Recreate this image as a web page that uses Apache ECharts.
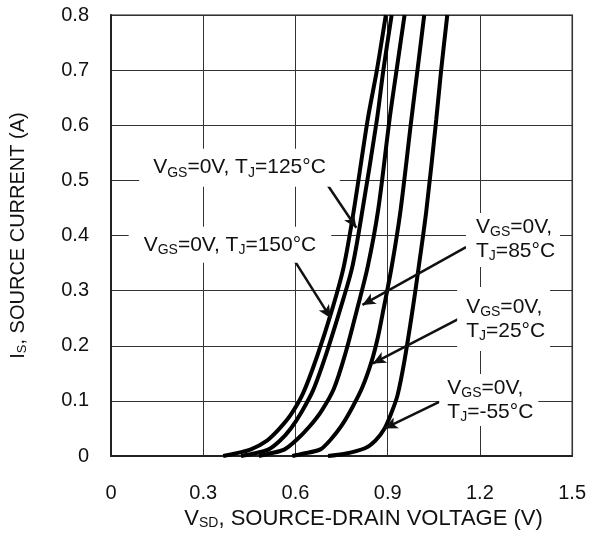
<!DOCTYPE html>
<html>
<head>
<meta charset="utf-8">
<script src="https://cdn.jsdelivr.net/npm/echarts@6/dist/echarts.min.js"></script>
<style>html,body{margin:0;padding:0;background:#fff}#c{width:589px;height:535px}</style>
</head>
<body>
<div id="c"></div>
<script>
// ---- data ----
const xTickLabels = ['0', '0.3', '0.6', '0.9', '1.2', '1.5'];
const yTickLabels = ['0', '0.1', '0.2', '0.3', '0.4', '0.5', '0.6', '0.7', '0.8'];

const curve150 = [[0.365,0],[0.400,0.004],[0.455,0.012],[0.505,0.027],[0.545,0.048],[0.585,0.075],[0.625,0.114],[0.670,0.180],[0.719,0.265],[0.757,0.343],[0.790,0.446],[0.835,0.610],[0.865,0.700],[0.894,0.800]];
const curve125 = [[0.423,0],[0.461,0.004],[0.513,0.012],[0.550,0.028],[0.585,0.050],[0.620,0.080],[0.658,0.120],[0.700,0.185],[0.745,0.265],[0.785,0.343],[0.818,0.446],[0.865,0.610],[0.886,0.700],[0.913,0.800]];
const curve85  = [[0.481,0],[0.513,0.004],[0.565,0.012],[0.605,0.030],[0.645,0.053],[0.685,0.082],[0.725,0.122],[0.762,0.185],[0.800,0.265],[0.835,0.343],[0.869,0.446],[0.906,0.610],[0.929,0.700],[0.955,0.800]];
const curve25  = [[0.590,0],[0.623,0.004],[0.681,0.012],[0.715,0.030],[0.750,0.055],[0.785,0.088],[0.818,0.125],[0.848,0.172],[0.868,0.215],[0.886,0.265],[0.913,0.343],[0.942,0.446],[0.977,0.610],[0.997,0.700],[1.019,0.800]];
const curveM55 = [[0.706,0],[0.761,0.004],[0.826,0.014],[0.860,0.028],[0.890,0.050],[0.912,0.078],[0.932,0.110],[0.955,0.174],[0.981,0.265],[1.001,0.343],[1.026,0.446],[1.058,0.610],[1.074,0.700],[1.094,0.800]];

const seriesNames = ['TJ=150', 'TJ=125', 'TJ=85', 'TJ=25', 'TJ=-55'];
const seriesData = [curve150, curve125, curve85, curve25, curveM55];

// annotation texts, anchors and arrow start/end (data units)
const annotTexts = [
  '{a|V}{s|GS}{a|=0V, T}{s|J}{a|=150°C}',
  '{a|V}{s|GS}{a|=0V, T}{s|J}{a|=125°C}',
  '{a|V}{s|GS}{a|=0V,}\n{a|T}{s|J}{a|=85°C}',
  '{a|V}{s|GS}{a|=0V,}\n{a|T}{s|J}{a|=25°C}',
  '{a|V}{s|GS}{a|=0V,}\n{a|T}{s|J}{a|=-55°C}'
];
const annotAnchors = [[0.387,0.383],[0.418,0.523],[1.155,0.392],[1.126,0.2485],[1.068,0.1016]];
const annotAlign = ['center','center','left','left','left'];
const annotPadding = [[6,15,6,15],[7,14,7,14],[2,5,4,10],[8,5,8,9],[2,5,2,8]];
const arrowFrom = [[0.594,0.357],[0.687,0.506],[1.155,0.379],[1.142,0.252],[1.068,0.098]];
const arrowTo   = [[0.715,0.250],[0.798,0.414],[0.818,0.274],[0.852,0.168],[0.890,0.050]];

// ---- chart ----
const FONT = 'Liberation Sans, Arial, sans-serif';
const TXT = '#111';
const rich = {
  a: {fontSize: 21, fontFamily: FONT, color: TXT, lineHeight: 24},
  s: {fontSize: 14, fontFamily: FONT, color: TXT, lineHeight: 10, verticalAlign: 'bottom'}
};
const richX = {
  a: {fontSize: 22, fontFamily: FONT, color: TXT, lineHeight: 22},
  s: {fontSize: 14, fontFamily: FONT, color: TXT, lineHeight: 8, verticalAlign: 'bottom'}
};
const richY = {
  a: {fontSize: 20, fontFamily: FONT, color: TXT, lineHeight: 22},
  s: {fontSize: 13, fontFamily: FONT, color: TXT, lineHeight: 8, verticalAlign: 'bottom'}
};

const chart = echarts.init(document.getElementById('c'), null, {renderer: 'canvas'});

const series = seriesData.map((d, i) => ({
  name: seriesNames[i],
  type: 'line',
  data: d,
  showSymbol: false,
  smooth: 0.3,
  lineStyle: {color: '#000', width: 4},
  emphasis: {disabled: true},
  z: 3
}));

series.push({
  name: 'annotations',
  type: 'line',
  data: [],
  z: 5,
  markLine: {
    silent: true,
    symbol: ['none', 'arrow'],
    symbolSize: [9, 13],
    label: {show: false},
    lineStyle: {color: '#111', width: 2.5, type: 'solid'},
    data: arrowFrom.map((f, i) => [{coord: f}, {coord: arrowTo[i]}]),
    animation: false
  },
  markPoint: {
    silent: true,
    symbol: 'circle',
    symbolSize: 0,
    itemStyle: {color: 'transparent'},
    data: annotAnchors.map((c, i) => ({
      coord: c,
      label: {
        show: true,
        position: 'inside',
        align: annotAlign[i],
        verticalAlign: 'middle',
        formatter: annotTexts[i],
        rich: rich,
        backgroundColor: '#fff',
        padding: annotPadding[i]
      }
    })),
    animation: false
  }
});

chart.setOption({
  animation: false,
  backgroundColor: '#fff',
  grid: {left: 109, right: 15, top: 15, bottom: 79, show: true, borderColor: '#8a8a8a', borderWidth: 2, backgroundColor: 'transparent'},
  xAxis: {
    type: 'value', min: 0, max: 1.5, interval: 0.3,
    axisLine: {show: true, onZero: false, lineStyle: {color: '#222', width: 2}},
    axisTick: {show: false},
    splitLine: {show: true, lineStyle: {color: '#333', width: 1}},
    axisLabel: {
      margin: 27, fontSize: 20, fontFamily: FONT, color: TXT,
      formatter: v => xTickLabels[Math.round(v / 0.3)]
    },
    name: '{a|V}{s|SD}{a|, SOURCE-DRAIN VOLTAGE (V)}',
    nameLocation: 'middle', nameGap: 49,
    nameTextStyle: {rich: richX, padding: [0, 0, 0, 44]}
  },
  yAxis: {
    type: 'value', min: 0, max: 0.8, interval: 0.1,
    axisLine: {show: true, lineStyle: {color: '#222', width: 2}},
    axisTick: {show: false},
    splitLine: {show: true, lineStyle: {color: '#333', width: 1}},
    axisLabel: {
      margin: 22, fontSize: 20, fontFamily: FONT, color: TXT,
      formatter: v => yTickLabels[Math.round(v / 0.1)]
    },
    name: '{a|I}{s|S}{a|, SOURCE CURRENT (A)}',
    nameLocation: 'middle', nameGap: 82,
    nameTextStyle: {rich: richY}
  },
  series: series
});
</script>
</body>
</html>
